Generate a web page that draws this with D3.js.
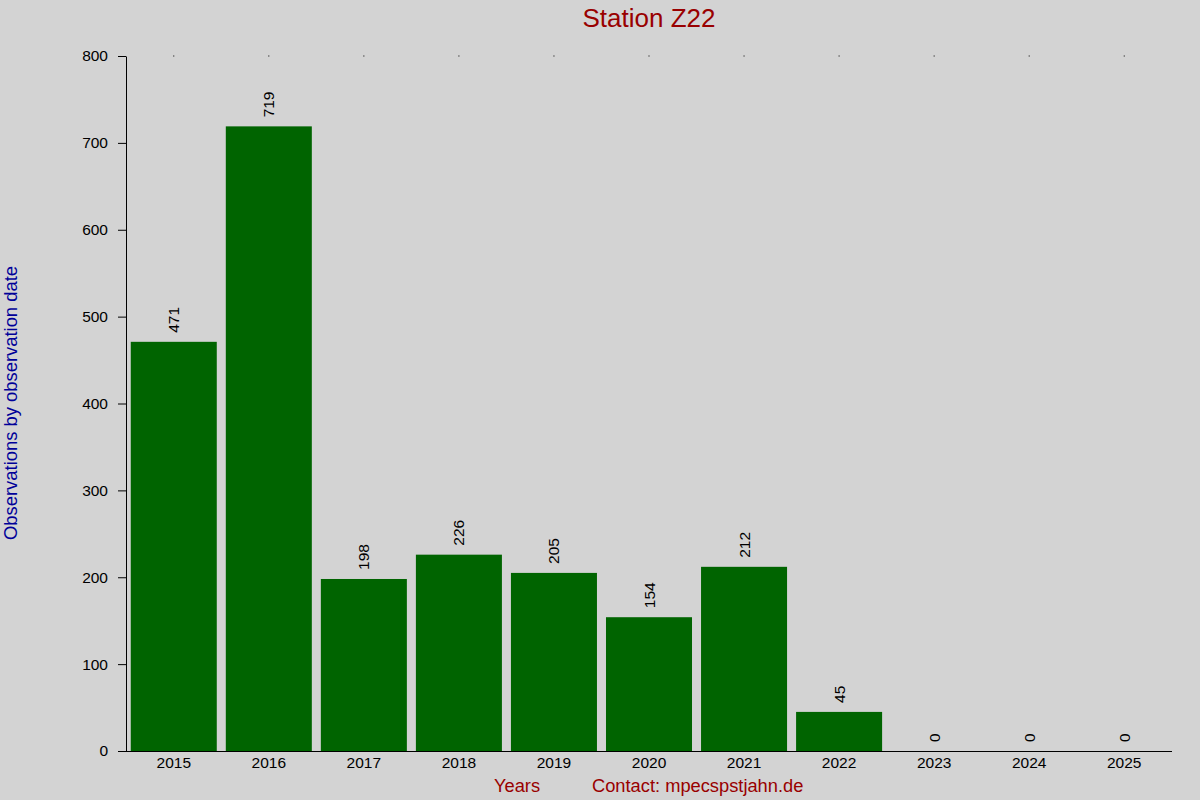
<!DOCTYPE html>
<html><head><meta charset="utf-8">
<script src="https://cdn.jsdelivr.net/npm/d3@7"></script>
<style>html,body{margin:0;padding:0;background:#d3d3d3;}svg{display:block;font-family:"Liberation Sans",Arial,sans-serif;}</style>
</head><body>
<script>
const years = ["2015","2016","2017","2018","2019","2020","2021","2022","2023","2024","2025"];
const counts = [471,719,198,226,205,154,212,45,0,0,0];
const yTicks = [0,100,200,300,400,500,600,700,800];
const title = "Station Z22";
const yTitle = "Observations by observation date";
const xTitle = "Years";
const contact = "Contact: mpecspstjahn.de";

(function(){
const W=1200,H=800;
const svg=d3.select("body").append("svg").attr("width",W).attr("height",H);
svg.append("rect").attr("width",W).attr("height",H).attr("fill","#d3d3d3");
const pl=126,pr=1172,pt=56,pb=751;
const x=d3.scaleBand().domain(years).range([pl,pr]).paddingInner(0.095).paddingOuter(0.05);
const y=d3.scaleLinear().domain([0,800]).range([pb,pt]);

svg.selectAll("rect.bar").data(counts).enter().append("rect")
  .attr("class","bar").attr("x",(d,i)=>x(years[i])).attr("width",x.bandwidth())
  .attr("y",d=>y(d)).attr("height",d=>y(0)-y(d)).attr("fill","#006400");

const ya=svg.append("g").attr("transform",`translate(${pl},0)`)
  .call(d3.axisLeft(y).tickValues(yTicks).tickSize(8).tickSizeOuter(0).tickPadding(10));
ya.select(".domain").attr("stroke","#000");
ya.selectAll("text").attr("font-size","15.5px").attr("fill","#000").attr("font-family","Liberation Sans, Arial, sans-serif");

const xa=svg.append("g").attr("transform",`translate(0,${pb})`)
  .call(d3.axisBottom(x).tickSize(0).tickPadding(6));
xa.select(".domain").attr("d",`M${pl-8},0.5H${pr}`).attr("stroke","#000");
xa.selectAll("text").attr("font-size","15.5px").attr("fill","#000").attr("font-family","Liberation Sans, Arial, sans-serif");

svg.selectAll("rect.dot").data(years).enter().append("rect").attr("class","dot")
  .attr("x",d=>x(d)+x.bandwidth()/2-0.5).attr("y",pt-0.5).attr("width",1).attr("height",1).attr("fill","#000");

svg.selectAll("text.val").data(counts).enter().append("text").attr("class","val")
  .attr("transform",(d,i)=>`translate(${x(years[i])+x.bandwidth()/2+5.5},${y(d)-9}) rotate(-90)`)
  .attr("font-size","15.5px").attr("fill","#000").text(d=>d);

svg.append("text").attr("x",649).attr("y",27).attr("text-anchor","middle")
  .attr("font-size","26px").attr("fill","#990000").text(title);
svg.append("text").attr("transform",`translate(17,${(pt+pb)/2-0.5}) rotate(-90)`).attr("text-anchor","middle")
  .attr("font-size","18.4px").attr("fill","#000099").text(yTitle);
svg.append("text").attr("x",494).attr("y",792).attr("font-size","18.3px").attr("fill","#990000").text(xTitle);
svg.append("text").attr("x",592).attr("y",792).attr("font-size","18.3px").attr("fill","#990000").text(contact);
})();
</script>
</body></html>
